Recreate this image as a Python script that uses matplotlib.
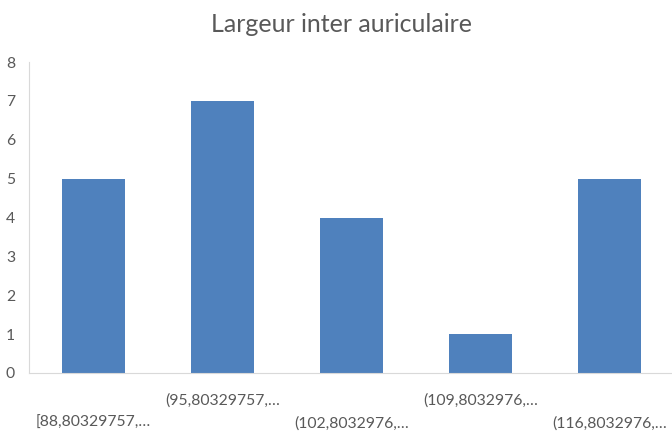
import matplotlib
matplotlib.use("Agg")
import matplotlib.pyplot as plt

# histogram classes and counts
classes = ["[88,80329757,…", "(95,80329757,…", "(102,8032976,…",
           "(109,8032976,…", "(116,8032976,…"]
counts = [5, 7, 4, 1, 5]

plt.rcParams['font.family'] = ['Lato', 'DejaVu Sans']
txt = "#595959"

fig = plt.figure(figsize=(6.72, 4.33), dpi=100)
ax = fig.add_axes([29 / 672, 60 / 433, 645 / 672, 311 / 433])

x = range(len(classes))
ax.bar(x, counts, width=0.49, color="#4F81BD", zorder=2)

ax.set_xlim(-0.5, len(classes) - 0.5)
ax.set_ylim(0, 8)
ax.set_yticks(range(0, 9))
ax.set_xticks(list(x))
ax.set_xticklabels(classes, fontsize=11.3, color=txt)
ax.tick_params(axis="y", length=0, labelsize=11.3, labelcolor=txt, pad=10)
ax.tick_params(axis="x", length=0)
# staggered labels like Excel does when they don't fit
for i, tick in enumerate(ax.xaxis.get_major_ticks()):
    tick.set_pad(31 if i % 2 == 0 else 15)

for side in ["top", "right"]:
    ax.spines[side].set_visible(False)
ax.spines["left"].set_color("#D9D9D9")
ax.spines["bottom"].set_color("#D9D9D9")

fig.text(0.508, 1 - 24 / 433, "Largeur inter auriculaire", ha="center", va="center",
         fontsize=18, color=txt)

plt.savefig("out.png", format="png")
